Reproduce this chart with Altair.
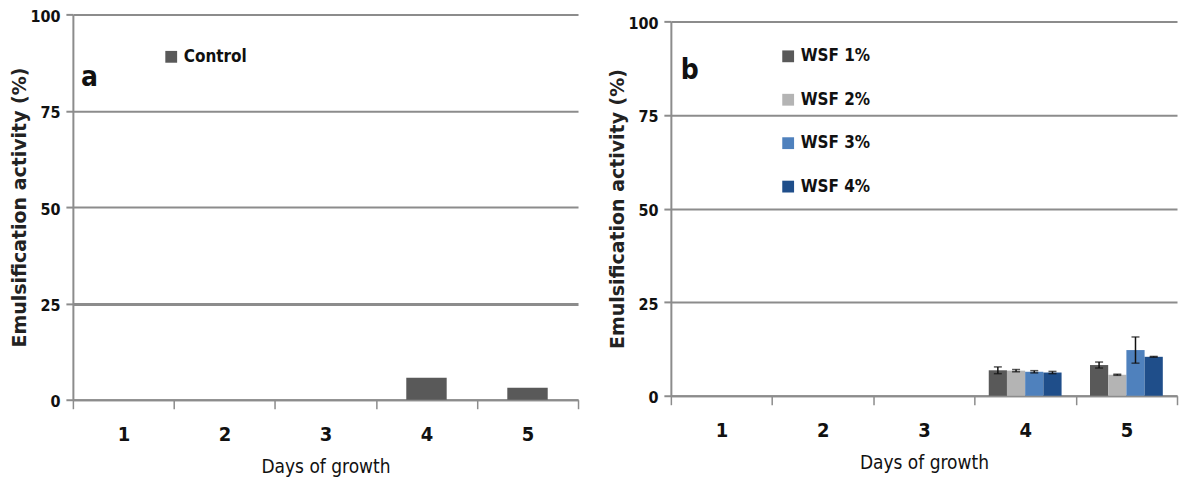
import altair as alt
import pandas as pd

# ---------------- data ----------------
days = ["1", "2", "3", "4", "5"]
control = [0, 0, 0, 5.7, 3.1]

series_b = ["WSF 1%", "WSF 2%", "WSF 3%", "WSF 4%"]
wsf1 = [0, 0, 0, 6.8, 8.2]
wsf2 = [0, 0, 0, 6.7, 5.6]
wsf3 = [0, 0, 0, 6.4, 12.2]
wsf4 = [0, 0, 0, 6.2, 10.4]
err1 = [0, 0, 0, 0.9, 0.8]
err2 = [0, 0, 0, 0.3, 0.15]
err3 = [0, 0, 0, 0.3, 3.5]
err4 = [0, 0, 0, 0.3, 0.1]

y_ticks = [0, 25, 50, 75, 100]

colors_a = ["#595959"]
colors_b = ["#595959", "#b4b4b4", "#4f81bd", "#1f4e8a"]

# ---------------- styling ----------------
GRAY = "#8c8c8c"
NARROW = "Liberation Sans Narrow, DejaVu Sans Condensed"
WIDE = "DejaVu Sans"


def y_axis(grid_width):
    return alt.Axis(
        values=y_ticks,
        title="Emulsification activity (%)",
        titleFont=WIDE, titleFontWeight="bold", titleFontSize=19, titleColor="#222222",
        titlePadding=0,
        labelFont=NARROW, labelFontWeight="bold", labelFontSize=16, labelColor="#111111",
        labelPadding=6, labelOffset=2,
        tickSize=7, tickColor=GRAY, tickWidth=2,
        domainColor=GRAY, domainWidth=2,
        grid=True, gridColor=GRAY,
        gridWidth=grid_width,
    )


def x_axis():
    return alt.Axis(
        title="Days of growth",
        titleFont=NARROW, titleFontWeight="normal", titleFontSize=19, titleColor="#111111",
        titlePadding=13,
        labelFont=NARROW, labelFontWeight="bold", labelFontSize=20, labelColor="#111111",
        labelAngle=0, labelPadding=16,
        tickBand="extent", tickSize=9, tickColor=GRAY, tickWidth=1.5,
        domainColor=GRAY, domainWidth=2,
        grid=False,
    )


def legend(lx, ly, row_pad=0):
    return alt.Legend(orient="none", legendX=lx, legendY=ly,
                      symbolType="square", symbolSize=140, symbolStrokeWidth=0,
                      labelFont=NARROW, labelFontSize=17, labelFontWeight="bold",
                      labelColor="#111111", rowPadding=row_pad, padding=0)


# ---------------- panel a ----------------
df_a = pd.DataFrame({"day": days, "value": control, "series": ["Control"] * len(days)})

grid_a = {"condition": {"test": "datum.value === 25", "value": 3}, "value": 2}

bars_a = alt.Chart(df_a).mark_bar(width=alt.RelativeBandSize(0.4)).encode(
    x=alt.X("day:N", sort=days, axis=x_axis(),
            scale=alt.Scale(paddingInner=0, paddingOuter=0)),
    y=alt.Y("value:Q", axis=y_axis(grid_a), scale=alt.Scale(domain=[0, 100], nice=False)),
    color=alt.Color("series:N", title=None,
                    scale=alt.Scale(domain=["Control"], range=colors_a),
                    legend=legend(90, 34)),
)

label_a = alt.Chart(pd.DataFrame({"t": ["a"]})).mark_text(
    font=NARROW, fontWeight="bold", fontSize=28, align="left", baseline="middle",
    color="#111111",
).encode(text="t:N", x=alt.value(8), y=alt.value(64))

panel_a = alt.layer(bars_a, label_a).properties(width=506, height=386)

# ---------------- panel b ----------------
rows = []
for s, vals, errs in zip(series_b, [wsf1, wsf2, wsf3, wsf4], [err1, err2, err3, err4]):
    for d, v, e in zip(days, vals, errs):
        rows.append({"day": d, "series": s, "value": v, "err": e,
                     "lo": v - e, "hi": v + e})
df_b = pd.DataFrame(rows)

HB = 382      # plot height of panel b
TOP_B = 7     # panel b's 100 line sits a little lower than panel a's

xb = alt.X("day:N", sort=days, axis=x_axis(),
           scale=alt.Scale(paddingInner=0, paddingOuter=0))
xo = alt.XOffset("series:N", sort=series_b,
                 scale=alt.Scale(domain=series_b, paddingInner=0, paddingOuter=0.78))
yb_scale = alt.Scale(domain=[0, 100], nice=False, range=[HB, TOP_B])

bars_b = alt.Chart(df_b).mark_bar().encode(
    x=xb, xOffset=xo,
    y=alt.Y("value:Q", axis=y_axis(2), scale=yb_scale),
    color=alt.Color("series:N", title=None, sort=series_b,
                    scale=alt.Scale(domain=series_b, range=colors_b),
                    legend=legend(109, 33.5, 25.5)),
)

err_base = alt.Chart(df_b).transform_filter("datum.err > 0")
err_rule = err_base.mark_rule(color="#111111", strokeWidth=1.5).encode(
    x=xb, xOffset=xo, y=alt.Y("lo:Q", scale=yb_scale), y2="hi:Q")
cap_lo = err_base.mark_tick(color="#111111", size=8, thickness=1.5, orient="horizontal").encode(
    x=xb, xOffset=xo, y=alt.Y("lo:Q", scale=yb_scale))
cap_hi = err_base.mark_tick(color="#111111", size=8, thickness=1.5, orient="horizontal").encode(
    x=xb, xOffset=xo, y=alt.Y("hi:Q", scale=yb_scale))

label_b = alt.Chart(pd.DataFrame({"t": ["b"]})).mark_text(
    font=NARROW, fontWeight="bold", fontSize=28, align="left", baseline="middle",
    color="#111111",
).encode(text="t:N", x=alt.value(10), y=alt.value(57))

panel_b = alt.layer(bars_b, err_rule, cap_lo, cap_hi, label_b).properties(
    width=507, height=HB)

chart = alt.hconcat(panel_a, panel_b, spacing=28).resolve_scale(
    color="independent"
).properties(
    padding={"left": 2, "top": -1, "right": 0, "bottom": 0}, background="white"
).configure_view(stroke="transparent")

chart.save("out.html", embed_options={"renderer": "svg", "actions": False})
